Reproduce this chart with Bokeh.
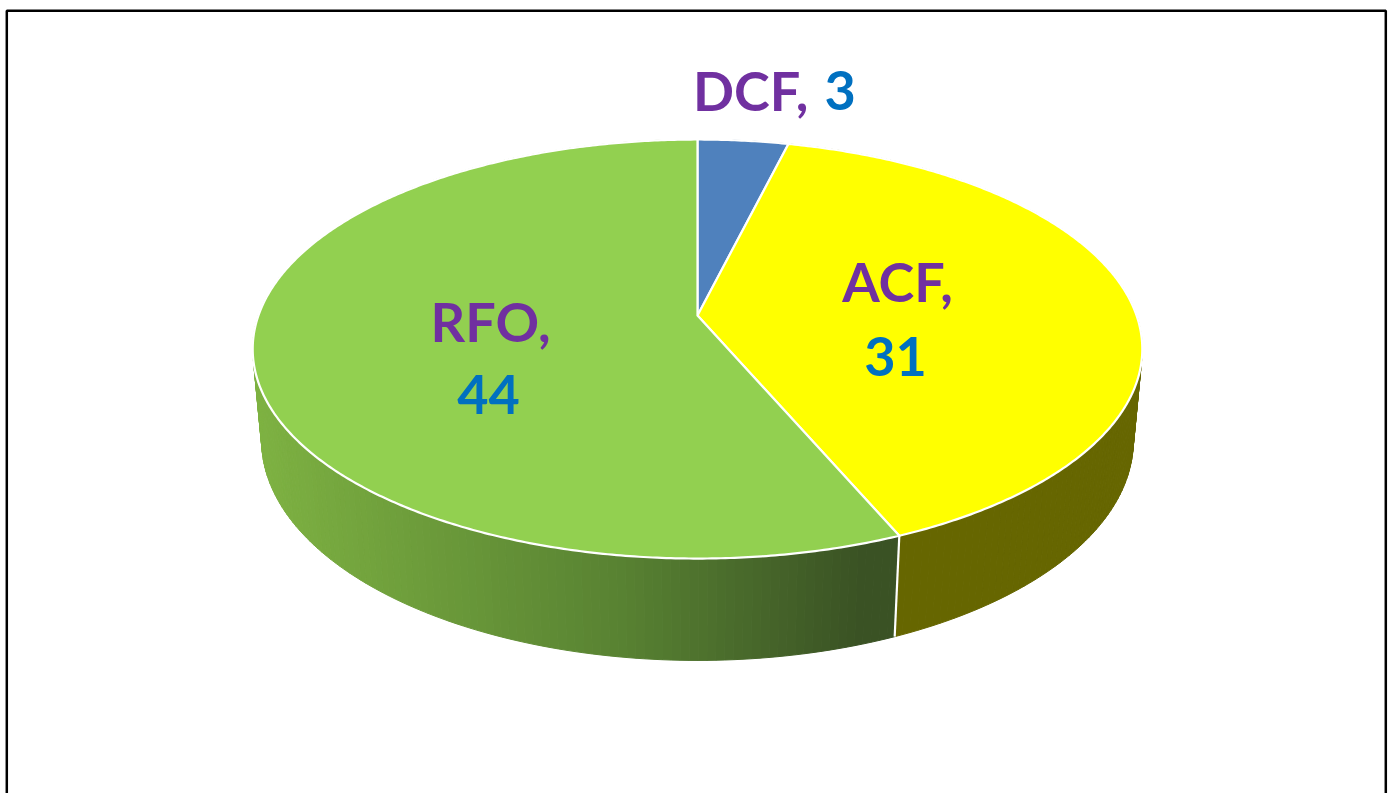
import numpy as np
from bokeh.plotting import figure
from bokeh.models import Range1d
from bokeh.core.properties import value
from bokeh.embed import file_html
from bokeh.resources import INLINE

# ---- data ----
categories = ["DCF", "ACF", "RFO"]
values = [3, 31, 44]
top_colors = ["#4F81BD", "#FFFF00", "#92D050"]
side_colors = ["#2E4F78", "#666600", None]  # RFO side uses gradient
name_color = "#7030A0"
value_color = "#0070C0"

# ---- layout (screen-pixel coordinates) ----
W, H = 1389, 793
CX, CY = 697.0, 315.0          # projected pie centre
FOC, CAM_D = 2428.0, 5.53      # perspective camera
SPHI, CPHI = 0.465, 0.885      # elevation sin/cos
DEPTH = 0.238                  # pie thickness (radius units)
TEXT_SHIFT = -22               # compensation for svg alphabetic baseline

def proj(X, Y, Z):
    d = CAM_D - Y * SPHI + Z * CPHI
    sx = CX + FOC * X / d
    sy = CY - FOC * (Y * CPHI + Z * SPHI) / d
    return sx, sy

p = figure(width=W, height=H, x_range=Range1d(0, W), y_range=Range1d(H, 0),
           output_backend="svg", toolbar_location=None, min_border=0)
p.axis.visible = False
p.grid.visible = False
p.outline_line_color = None
p.background_fill_color = "white"
p.border_fill_color = "white"

total = float(sum(values))
cum = np.concatenate([[0.0], np.cumsum(values)]) / total * 2 * np.pi

# gradient stops for the RFO side (by screen x)
gx = [255, 620, 860]
gR = [126, 88, 58]
gG = [178, 130, 82]
gB = [66, 50, 36]

def hexcol(r, g, b):
    return "#%02x%02x%02x" % (int(round(r)), int(round(g)), int(round(b)))

# ---- side walls ----
for i in range(len(values)):
    t1, t2 = cum[i], cum[i + 1]
    n = max(4, int((t2 - t1) / (2 * np.pi) * 360))
    th = np.linspace(t1, t2, n + 1)
    tx, ty = proj(np.sin(th), 0.0, np.cos(th))
    bx, by = proj(np.sin(th), -DEPTH, np.cos(th))
    xs, ys, cols = [], [], []
    for j in range(n):
        qx = [tx[j], tx[j + 1], bx[j + 1], bx[j]]
        qy = [ty[j], ty[j + 1], by[j + 1], by[j]]
        xs.append(qx)
        ys.append(qy)
        if side_colors[i] is None:
            mx = np.mean(qx)
            cols.append(hexcol(np.interp(mx, gx, gR), np.interp(mx, gx, gG), np.interp(mx, gx, gB)))
        else:
            cols.append(side_colors[i])
    p.patches(xs, ys, fill_color=cols, line_color=cols, line_width=1)

# white edges on the side at visible slice boundaries
for t in cum[:-1]:
    if np.cos(t) < 0:
        x0, y0 = proj(np.sin(t), 0.0, np.cos(t))
        x1, y1 = proj(np.sin(t), -DEPTH, np.cos(t))
        p.line([x0, x1], [y0, y1], line_color="white", line_width=2.2)

# ---- top faces ----
for i in range(len(values)):
    t1, t2 = cum[i], cum[i + 1]
    n = max(8, int((t2 - t1) / (2 * np.pi) * 720))
    th = np.linspace(t1, t2, n + 1)
    tx, ty = proj(np.sin(th), 0.0, np.cos(th))
    px = [CX] + list(tx)
    py = [CY] + list(ty)
    p.patch(px, py, fill_color=top_colors[i], line_color="white", line_width=2.2,
            line_join="round")

# ---- labels ----
FONT = value("Lato")
FS = "54px"
# DCF (outside, one line, two colours)
p.text(x=[808], y=[112 + TEXT_SHIFT], text=[categories[0] + ","], text_color=name_color,
       text_font=FONT, text_font_style="bold", text_font_size=FS,
       text_align="right", text_baseline="alphabetic")
p.text(x=[824], y=[112 + TEXT_SHIFT], text=[str(values[0])], text_color=value_color,
       text_font=FONT, text_font_style="bold", text_font_size=FS,
       text_align="left", text_baseline="alphabetic")
# ACF and RFO (inside, two lines)
lab_x = [897, 490]
lab_y1 = [303 + TEXT_SHIFT, 343 + TEXT_SHIFT]
lab_y2 = [378 + TEXT_SHIFT, 416 + TEXT_SHIFT]
p.text(x=lab_x, y=lab_y1, text=[c + "," for c in categories[1:]], text_color=name_color,
       text_font=FONT, text_font_style="bold", text_font_size=FS,
       text_align="center", text_baseline="alphabetic")
p.text(x=[x - 2 for x in lab_x], y=lab_y2, text=[str(v) for v in values[1:]], text_color=value_color,
       text_font=FONT, text_font_style="bold", text_font_size=FS,
       text_align="center", text_baseline="alphabetic")

# ---- frame ----
p.line([6.3, 6.3, 1385.3, 1385.3], [830, 10.3, 10.3, 830], line_color="black", line_width=2.5)

open("out.html", "w").write(file_html(p, INLINE))
